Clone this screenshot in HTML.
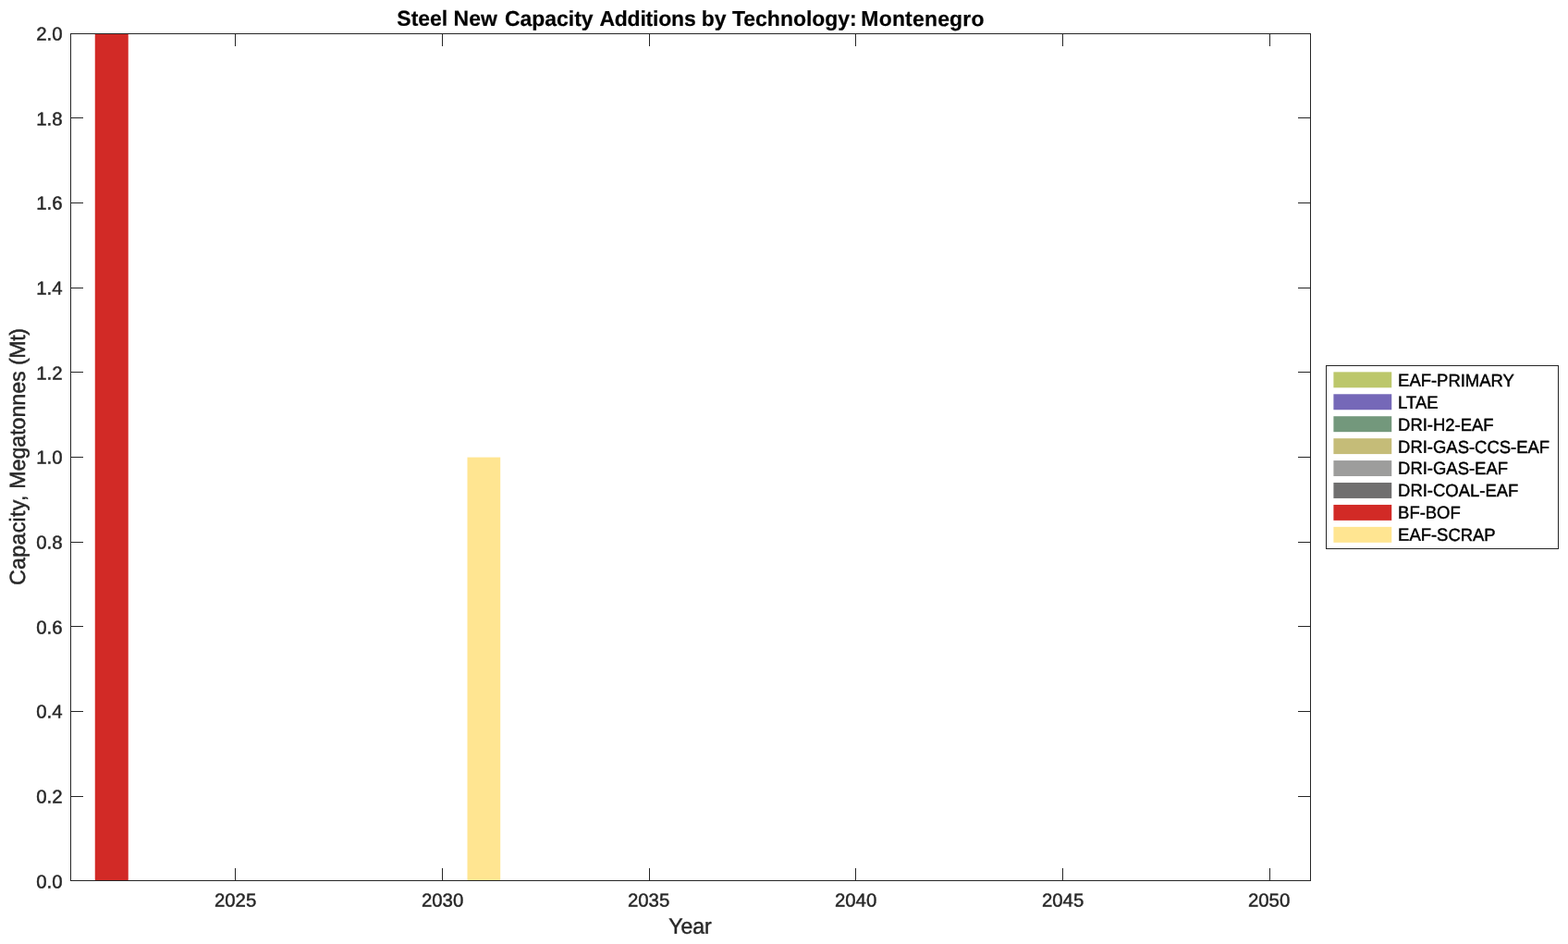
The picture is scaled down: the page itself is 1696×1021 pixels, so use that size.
<!DOCTYPE html>
<html lang="en">
<head>
<meta charset="utf-8">
<title>Steel New Capacity Additions by Technology: Montenegro</title>
<style>
html,body{margin:0;padding:0;background:#fff;overflow:hidden}
svg{display:block;font-family:"Liberation Sans",Arial,Helvetica,sans-serif;text-rendering:geometricPrecision}
.ax{fill:none;stroke:#262626;stroke-width:1}
.tk{font-size:20.2px;fill:#262626;stroke-width:0.45px;paint-order:stroke;stroke:#262626}
.lb{font-size:23.6px;fill:#262626;stroke-width:0.45px;paint-order:stroke;stroke:#262626}
.ti{font-size:23.2px;font-weight:bold;fill:#000;stroke:#000;stroke-width:0.2px}
.lg{font-size:19.1px;fill:#000;stroke-width:0.45px;paint-order:stroke;stroke:#000}
</style>
</head>
<body>
<svg width="1696" height="1021" viewBox="0 0 1696 1021">
<rect x="0" y="0" width="1696" height="1021" fill="#fff"/>
<g>
<rect x="102.75" y="36.5" width="36" height="916" fill="#D22A26"/>
<rect x="505.5" y="494.6" width="35.7" height="458" fill="#FFE591"/>
</g>
<g fill="#262626" shape-rendering="crispEdges">
<path d="M76 36h1342v1h-1342zM76 952h1342v1h-1342zM76 36h1v917h-1zM1417 36h1v917h-1zM254 939h1v13h-1zM254 37h1v13h-1zM478 939h1v13h-1zM478 37h1v13h-1zM702 939h1v13h-1zM702 37h1v13h-1zM925 939h1v13h-1zM925 37h1v13h-1zM1149 939h1v13h-1zM1149 37h1v13h-1zM1373 939h1v13h-1zM1373 37h1v13h-1zM77 127h13v1h-13zM1404 127h13v1h-13zM77 219h13v1h-13zM1404 219h13v1h-13zM77 311h13v1h-13zM1404 311h13v1h-13zM77 402h13v1h-13zM1404 402h13v1h-13zM77 494h13v1h-13zM1404 494h13v1h-13zM77 586h13v1h-13zM1404 586h13v1h-13zM77 677h13v1h-13zM1404 677h13v1h-13zM77 769h13v1h-13zM1404 769h13v1h-13zM77 861h13v1h-13zM1404 861h13v1h-13z"/>
</g>
<text class="tk" text-anchor="middle" transform="translate(254.60 980.50) rotate(0.03) scale(1.01 1)">2025</text>
<text class="tk" text-anchor="middle" transform="translate(478.60 980.50) rotate(0.03) scale(1.01 1)">2030</text>
<text class="tk" text-anchor="middle" transform="translate(701.60 980.50) rotate(0.03) scale(1.01 1)">2035</text>
<text class="tk" text-anchor="middle" transform="translate(925.60 980.50) rotate(0.03) scale(1.01 1)">2040</text>
<text class="tk" text-anchor="middle" transform="translate(1149.60 980.50) rotate(0.03) scale(1.01 1)">2045</text>
<text class="tk" text-anchor="middle" transform="translate(1372.60 980.50) rotate(0.03) scale(1.01 1)">2050</text>
<text class="tk" text-anchor="end" transform="translate(67.60 43.60) rotate(0.03) scale(1.01 1)">2.0</text>
<text class="tk" text-anchor="end" transform="translate(67.60 135.60) rotate(0.03) scale(1.01 1)">1.8</text>
<text class="tk" text-anchor="end" transform="translate(67.60 226.60) rotate(0.03) scale(1.01 1)">1.6</text>
<text class="tk" text-anchor="end" transform="translate(67.60 318.60) rotate(0.03) scale(1.01 1)">1.4</text>
<text class="tk" text-anchor="end" transform="translate(67.60 410.60) rotate(0.03) scale(1.01 1)">1.2</text>
<text class="tk" text-anchor="end" transform="translate(67.60 501.60) rotate(0.03) scale(1.01 1)">1.0</text>
<text class="tk" text-anchor="end" transform="translate(67.60 593.60) rotate(0.03) scale(1.01 1)">0.8</text>
<text class="tk" text-anchor="end" transform="translate(67.60 685.60) rotate(0.03) scale(1.01 1)">0.6</text>
<text class="tk" text-anchor="end" transform="translate(67.60 776.60) rotate(0.03) scale(1.01 1)">0.4</text>
<text class="tk" text-anchor="end" transform="translate(67.60 868.60) rotate(0.03) scale(1.01 1)">0.2</text>
<text class="tk" text-anchor="end" transform="translate(67.60 960.60) rotate(0.03) scale(1.01 1)">0.0</text>
<text class="lb" text-anchor="middle" transform="translate(746.50 1009.75) rotate(0.03) scale(0.975 1)">Year</text>
<text class="lb" text-anchor="middle" transform="translate(27.00 494.30) rotate(-89.97) scale(0.985 1)"><tspan letter-spacing="0.3">Capacity,</tspan> <tspan letter-spacing="-0.05">Megatonnes</tspan> <tspan letter-spacing="-0.5">(Mt)</tspan></text>
<text class="ti" text-anchor="middle" transform="translate(747.00 28.00) rotate(0.03) scale(0.99 1)">Steel New <tspan dx="1.8">Capacity</tspan> <tspan dx="0.4" letter-spacing="-0.2">Additions</tspan> by Technology: <tspan dx="-1.8" letter-spacing="0.2">Montenegro</tspan></text>
<g>
<path fill="#262626" shape-rendering="crispEdges" d="M1434 395h252v199h-252zM1435 396v197h250v-197z" fill-rule="evenodd"/>
<rect x="1442.4" y="402.35" width="62.85" height="16.95" fill="#BCC76B"/>
<text class="lg" transform="translate(1512.10 417.85) rotate(0.03) scale(0.966 1)">EAF-PRIMARY</text>
<rect x="1442.4" y="426.28" width="62.85" height="16.95" fill="#7568B8"/>
<text class="lg" transform="translate(1512.10 441.85) rotate(0.03) scale(0.966 1)">LTAE</text>
<rect x="1442.4" y="450.21" width="62.85" height="16.95" fill="#73987C"/>
<text class="lg" transform="translate(1512.10 465.85) rotate(0.03) scale(0.966 1)">DRI-H2-EAF</text>
<rect x="1442.4" y="474.14" width="62.85" height="16.95" fill="#C5BC78"/>
<text class="lg" transform="translate(1512.10 489.85) rotate(0.03) scale(0.966 1)">DRI-GAS-CCS-EAF</text>
<rect x="1442.4" y="498.07" width="62.85" height="16.95" fill="#9D9D9C"/>
<text class="lg" transform="translate(1512.10 512.85) rotate(0.03) scale(0.966 1)">DRI-GAS-EAF</text>
<rect x="1442.4" y="522.00" width="62.85" height="16.95" fill="#706F6F"/>
<text class="lg" transform="translate(1512.10 536.85) rotate(0.03) scale(0.966 1)">DRI-COAL-EAF</text>
<rect x="1442.4" y="545.93" width="62.85" height="16.95" fill="#D22A26"/>
<text class="lg" transform="translate(1512.10 560.85) rotate(0.03) scale(0.966 1)">BF-BOF</text>
<rect x="1442.4" y="569.86" width="62.85" height="16.95" fill="#FFE591"/>
<text class="lg" transform="translate(1512.10 584.85) rotate(0.03) scale(0.966 1)">EAF-SCRAP</text>
</g>
</svg>
</body>
</html>
